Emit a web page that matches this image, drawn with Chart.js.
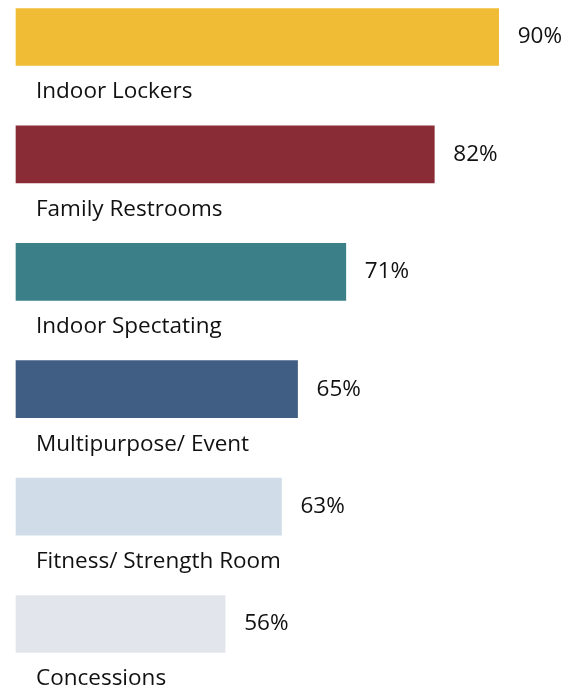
<!DOCTYPE html>
<html>
<head>
<meta charset="utf-8">
<title>Amenities</title>
<script src="https://cdn.jsdelivr.net/npm/chart.js@4/dist/chart.umd.min.js"></script>
<style>
    html, body { margin: 0; padding: 0; background: #fff; }
    #wrap { position: relative; width: 578px; height: 687px; }
</style>
</head>
<body>
<div id="wrap"><canvas id="amenityChart"></canvas></div>
<script>
// 항목 / 응답 비율(%)
var amenityLabels = ['Indoor Lockers', 'Family Restrooms', 'Indoor Spectating', 'Multipurpose/ Event', 'Fitness/ Strength Room', 'Concessions'];
var amenityValues = [90, 82, 71, 65, 63, 56];
var barColors = ['#F0BC36', '#8A2C35', '#3B8088', '#405E83', '#D0DDE9', '#E2E6EC'];

// 축 시작값 (막대 기준선)
var axisMin = 30;
var axisMax = 98;

var labelFont = '22.5px "Open Sans", sans-serif';

// 막대 아래 항목명, 오른쪽에 퍼센트 표시
var barTextPlugin = {
    id: 'barText',
    afterDatasetsDraw: function(chart) {
        var ctx = chart.ctx;
        var meta = chart.getDatasetMeta(0);
        var xScale = chart.scales.x;
        ctx.save();
        ctx.font = labelFont;
        ctx.fillStyle = '#111';
        ctx.textAlign = 'left';
        ctx.textBaseline = 'middle';
        meta.data.forEach(function(bar, i) {
            var value = amenityValues[i];
            var right = xScale.getPixelForValue(value);
            ctx.fillText(value + '%', right + 19, bar.y);
            ctx.fillText(amenityLabels[i], 36, bar.y + 55);
        });
        ctx.restore();
    }
};

const ctx = document.getElementById('amenityChart').getContext('2d');
new Chart(ctx, {
    type: 'bar',
    data: {
        labels: amenityLabels,
        datasets: [{
            data: amenityValues,
            backgroundColor: barColors,
            borderWidth: 0,
            barThickness: 57,
            base: axisMin,
            clip: false
        }]
    },
    options: {
        indexAxis: 'y',
        responsive: true,
        maintainAspectRatio: false,
        animation: false,
        layout: {
            padding: { left: 16, right: 15, top: 37, bottom: 63 }
        },
        plugins: {
            legend: { display: false },
            tooltip: { enabled: false }
        },
        scales: {
            x: {
                display: false,
                min: axisMin,
                max: axisMax
            },
            y: {
                display: false,
                offset: false
            }
        }
    },
    plugins: [barTextPlugin]
});
</script>
</body>
</html>
